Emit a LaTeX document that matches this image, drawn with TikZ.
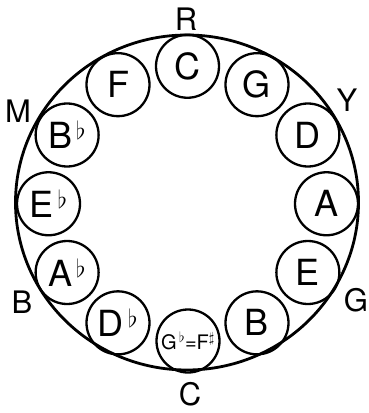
\documentclass[tikz,border=0pt]{standalone}
\usepackage{fontspec}
\setmainfont{TeX Gyre Heros}
\begin{document}
\begin{tikzpicture}[
  x=1pt,y=-1pt,
  every node/.style={inner sep=0pt},
  key/.style={draw,circle,line width=2.3pt,minimum size=63pt,font=\fontsize{36}{40}\selectfont},
  mode/.style={font=\fontsize{31}{34}\selectfont}
]
\useasboundingbox (0,0) rectangle (368,413);
% 外の円
\draw[line width=2.8pt] (187,202.5) ellipse [x radius=171.5pt, y radius=167.5pt];

% 五度圏の調
\foreach \a/\n/\t in {90/c/C, 60/g/G, 30/d/D, 0/a/A, -30/e/E, -60/b/B,
  -120/des/{D$^{\,\flat}$}, -150/as/{A$^{\,\flat}$}, 180/es/{E$^{\,\flat}$},
  150/bes/{B$^{\,\flat}$}, 120/f/F}
  \node[key] (\n) at ({187.5+139*cos(\a)},{203.75-137.5*sin(\a)}) {\t};
\node[key,font=\fontsize{20}{22}\selectfont] (ges) at (188,341)
  {G$^{\,\flat}$=F$^\sharp$};

% 外側の文字
\node[mode] (r) at (186,19.5) {R};
\node[mode] (y) at (347,100) {Y};
\node[mode] (m) at (18,111) {M};
\node[mode] (bl) at (22,302) {B};
\node[mode] (gr) at (356,300) {G};
\node[mode] (cb) at (190,394.5) {C};
\end{tikzpicture}
\end{document}
